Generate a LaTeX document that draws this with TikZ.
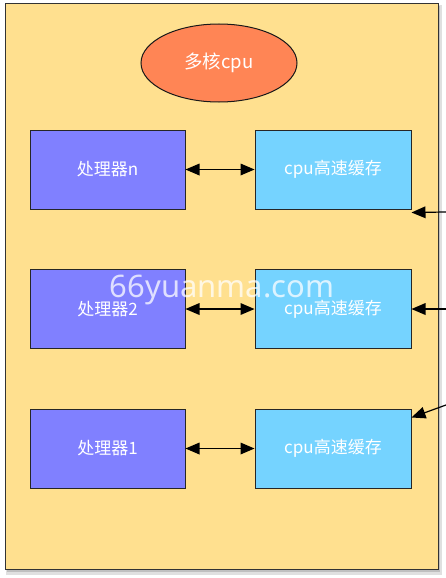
\documentclass[tikz,border=0pt]{standalone}
\usepackage{fontspec}
\setmainfont{Noto Sans CJK SC}
\usetikzlibrary{shapes.geometric,calc}
\definecolor{bgyellow}{HTML}{FFE08F}
\definecolor{procblue}{HTML}{8080FF}
\definecolor{cacheblue}{HTML}{75D3FF}
\definecolor{ellorange}{HTML}{FF8555}
\tikzset{
  proc/.style={draw=black!85, line width=1pt, fill=procblue, minimum width=155pt, minimum height=79pt, text=white, font=\fontsize{17}{19}\selectfont, inner sep=0pt},
  cache/.style={draw=black!85, line width=1pt, fill=cacheblue, minimum width=156pt, minimum height=79pt, text=white, font=\fontsize{17}{19}\selectfont, inner sep=0pt},
  conn/.style={line width=1.2pt}
}
% filled arrowhead with apex at #2, pointing from #1 towards #2
\newcommand{\mytip}[2]{%
  \fill[black] (#2) -- ($($(#2)!14pt!(#1)$)!6pt!90:(#2)$) -- ($($(#2)!14pt!(#1)$)!6pt!-90:(#2)$) -- cycle;}
\begin{document}
\begin{tikzpicture}[x=1pt,y=-1pt]
\useasboundingbox (0,0) rectangle (445,578);
\fill[white] (0,0) rectangle (445,578);
% shadow
\fill[black!12] (6,5) rectangle (442,575);
\fill[black!25] (7,6) rectangle (440,572);
\node[draw=black!80, line width=1.2pt, fill=bgyellow, minimum width=433pt, minimum height=566pt, inner sep=0pt, anchor=north west] (outer) at (5,3) {};
\node[ellipse, draw=black!90, line width=1pt, fill=ellorange, minimum width=156pt, minimum height=78pt, text=white, font=\fontsize{18.5}{20}\selectfont] (multi) at (219,63) {多核cpu};
\node[proc] (pn) at (107.5,169.5) {处理器n};
\node[proc] (p2) at (107.5,309) {处理器2};
\node[proc] (p1) at (107.5,448.5) {处理器1};
\node[cache] (cn) at (333,169.5) {cpu高速缓存};
\node[cache] (c2) at (333,309) {cpu高速缓存};
\node[cache] (c1) at (333,448.5) {cpu高速缓存};
\coordinate (pnE) at (pn.east); \coordinate (cnW) at (cn.west);
\coordinate (p2E) at (p2.east); \coordinate (c2W) at (c2.west);
\coordinate (p1E) at (p1.east); \coordinate (c1W) at (c1.west);
\draw[conn, shorten <=10pt, shorten >=10pt] (pnE) -- (cnW);
\draw[conn, shorten <=10pt, shorten >=10pt] (p2E) -- (c2W);
\draw[conn, shorten <=10pt, shorten >=10pt] (p1E) -- (c1W);
\mytip{cnW}{pnE}\mytip{pnE}{cnW}
\mytip{c2W}{p2E}\mytip{p2E}{c2W}
\mytip{c1W}{p1E}\mytip{p1E}{c1W}
\coordinate (in3) at (446,212);
\coordinate (in2) at (446,309);
\coordinate (in1) at (446,405);
\coordinate (t3) at ([yshift=-3pt]cn.south east);
\coordinate (t2) at (c2.east);
\coordinate (t1) at ([yshift=-9pt]c1.north east);
\draw[conn, shorten >=10pt] (in3) -- (t3);
\draw[conn, shorten >=10pt] (in2) -- (t2);
\draw[conn, shorten >=10pt] (in1) -- (t1);
\mytip{in3}{t3}\mytip{in2}{t2}\mytip{in1}{t1}
\node[text=white, opacity=0.75, font=\fontsize{31}{34}\selectfont\fontspec{Noto Sans}] (wm) at (222,290) {66yuanma.com};
\end{tikzpicture}
\end{document}
